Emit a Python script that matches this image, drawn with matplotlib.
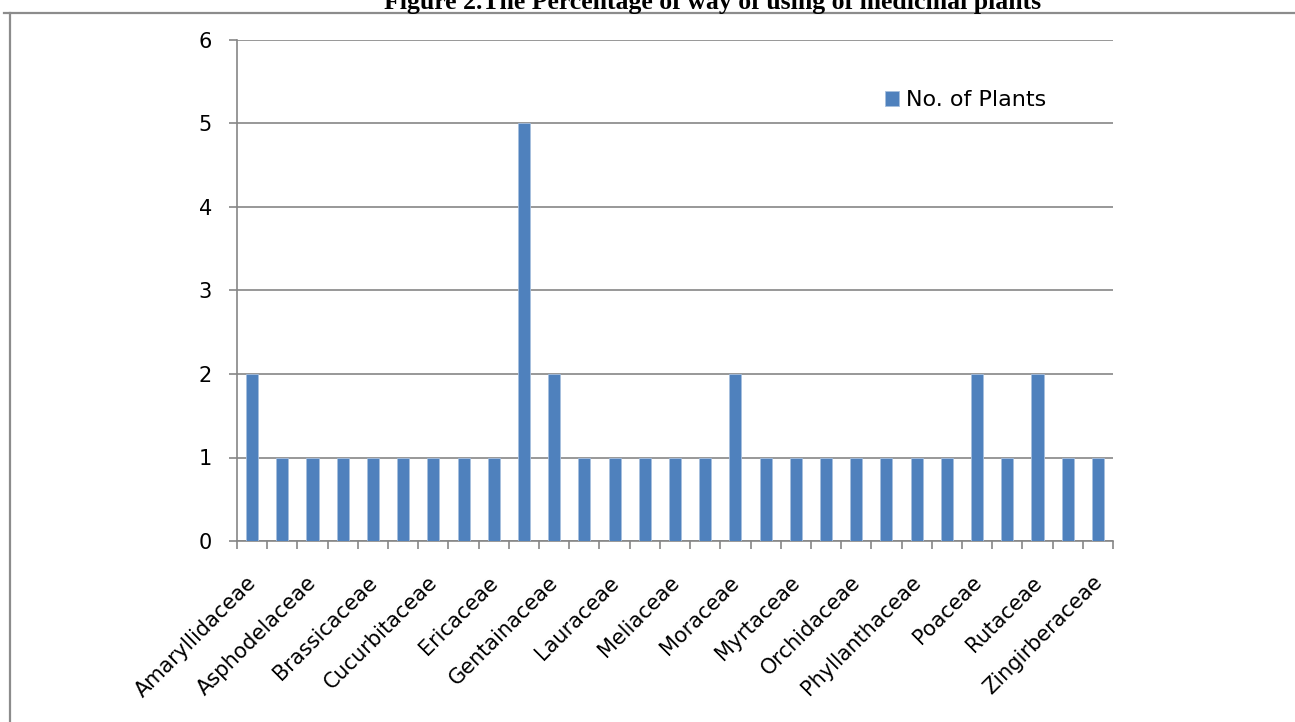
import matplotlib
matplotlib.use("Agg")
import matplotlib.pyplot as plt
import matplotlib.transforms as mtransforms
from matplotlib.lines import Line2D
import numpy as np

# ---- data ----
shown_labels = ["Amaryllidaceae", "Asphodelaceae", "Brassicaceae", "Cucurbitaceae",
                "Ericaceae", "Gentainaceae", "Lauraceae", "Meliaceae", "Moraceae",
                "Myrtaceae", "Orchidaceae", "Phyllanthaceae", "Poaceae", "Rutaceae",
                "Zingirberaceae"]
# 29 families; every other family name is shown on the axis (the rest are hidden)
categories = []
for i, name in enumerate(shown_labels):
    categories.append(name)
    if i < len(shown_labels) - 1:
        categories.append("")
values = [2, 1, 1, 1, 1, 1, 1, 1, 1, 5, 2, 1, 1, 1, 1, 1, 2, 1, 1, 1, 1, 1, 1, 1, 2, 1, 2, 1, 1]
series_name = "No. of Plants"
title = "Figure 2.The Percentage of way of using of medicinal plants"
yticks = [0, 1, 2, 3, 4, 5, 6]

W, H = 1295, 722
fig = plt.figure(figsize=(W / 100, H / 100), dpi=100)
fig.patch.set_facecolor("white")

font = "DejaVu Sans"
grey = "#868686"
bar_color = "#4F81BD"

ax = fig.add_axes([237 / W, 1 - 541 / H, (1113 - 237) / W, (541 - 40) / H])
x = np.arange(len(categories))
ax.bar(x, values, width=0.4, color=bar_color, edgecolor="#A7BFDE", linewidth=0.6,
       label=series_name, zorder=3)

ax.set_xlim(-0.5, len(categories) - 0.5)
ax.set_ylim(0, 6)
ax.set_yticks(yticks)
ax.set_yticklabels([str(v) for v in yticks], fontsize=15, family=font)
ax.yaxis.grid(True, color=grey, linewidth=1.2, zorder=0)
ax.set_axisbelow(True)

for s in ["top", "right"]:
    ax.spines[s].set_visible(False)
for s in ["left", "bottom"]:
    ax.spines[s].set_color(grey)
    ax.spines[s].set_linewidth(1.2)
ax.tick_params(axis="y", length=6, width=1.2, color=grey, pad=12)

# major ticks at category centres (labels only), minor ticks at boundaries
ax.set_xticks(x)
ax.set_xticklabels(categories, rotation=45, ha="right", va="top",
                   fontsize=15, family=font)
ax.tick_params(axis="x", which="major", length=0, pad=22.5)
ax.set_xticks(np.arange(-0.5, len(categories), 1.0), minor=True)
ax.tick_params(axis="x", which="minor", length=6, width=1.2, color=grey)
shift = mtransforms.ScaledTranslation(8 / 100, 0, fig.dpi_scale_trans)
for lab in ax.get_xticklabels():
    lab.set_transform(lab.get_transform() + shift)

leg = ax.legend(loc="center left", bbox_to_anchor=(885 / W, 1 - 100 / H),
                bbox_transform=fig.transFigure, frameon=False,
                borderpad=0, borderaxespad=0,
                handlelength=0.65, handleheight=0.65, handletextpad=0.3,
                prop={"family": font, "size": 16})

# outer frame (left and top edges visible)
fig.add_artist(Line2D([10 / W, 10 / W], [0, 1 - 12.5 / H], transform=fig.transFigure,
                      color="#8C8C8C", linewidth=1.6))
fig.add_artist(Line2D([4 / W, 1], [1 - 12.5 / H, 1 - 12.5 / H], transform=fig.transFigure,
                      color="#8C8C8C", linewidth=1.6))

fig.text(713 / W, 1 - 9 / H, title, ha="center", va="baseline",
         fontsize=18.5, fontweight="bold", family="Liberation Serif")

fig.savefig("out.png", dpi=100)
